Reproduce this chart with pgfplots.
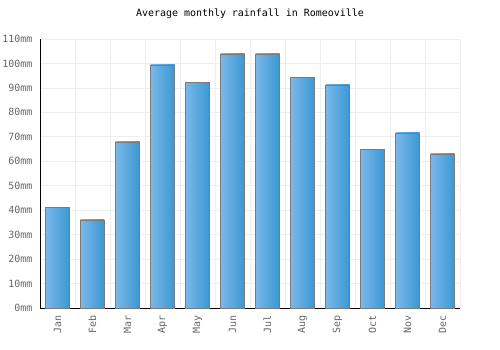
\documentclass[border=0pt]{standalone}
\usepackage{pgfplots}
\pgfplotsset{compat=1.18}
\usepackage{fontspec}
\setmainfont{DejaVu Sans Mono}
\definecolor{barL}{HTML}{7AB8EA}
\definecolor{barR}{HTML}{3A98D2}
\definecolor{barE}{HTML}{7A7A7A}
\definecolor{gridc}{HTML}{EEEEEE}
\definecolor{tickc}{HTML}{666666}
\begin{document}
\begin{tikzpicture}
\useasboundingbox (-40bp,-42bp) rectangle (460bp,308bp);
\begin{axis}[
  at={(0,0)}, anchor=south west,
  scale only axis, width=420bp, height=269bp,
  xmin=-0.5, xmax=11.5, ymin=0, ymax=110,
  xtick={0,...,11},
  xticklabels={Jan,Feb,Mar,Apr,May,Jun,Jul,Aug,Sep,Oct,Nov,Dec},
  minor xtick={-0.5,0.5,...,11.5},
  ytick={0,10,...,110},
  yticklabel={\pgfmathprintnumber{\tick}mm},
  /pgf/number format/assume math mode=true,
  xmajorgrids=false, xminorgrids=true, ymajorgrids=true,
  grid style={gridc, line width=0.8pt},
  minor grid style={gridc, line width=0.8pt},
  axis x line*=bottom, axis y line*=left,
  axis line style={black, line width=0.8pt},
  major tick length=0pt, minor tick length=0pt,
  tick style={draw=none},
  x tick label style={rotate=90, anchor=east, font=\fontsize{10}{12}\selectfont, text=tickc},
  y tick label style={font=\fontsize{10}{12}\selectfont, text=tickc},
  xticklabel shift=4bp, yticklabel shift=4bp,
  title={Average monthly rainfall in Romeoville},
  title style={at={(0.5,1)}, anchor=center, yshift=19bp, font=\fontsize{10}{12}\selectfont},
  clip=false,
  barstyle/.style={ybar, bar width=24bp, bar shift=0pt, draw=barE, line width=0.8pt, left color=barL, right color=barR, forget plot},
]
\addplot[barstyle] coordinates {(0,41.3)};
\addplot[barstyle] coordinates {(1,36)};
\addplot[barstyle] coordinates {(2,67.9)};
\addplot[barstyle] coordinates {(3,99.4)};
\addplot[barstyle] coordinates {(4,92.4)};
\addplot[barstyle] coordinates {(5,103.9)};
\addplot[barstyle] coordinates {(6,103.9)};
\addplot[barstyle] coordinates {(7,94.1)};
\addplot[barstyle] coordinates {(8,91.2)};
\addplot[barstyle] coordinates {(9,65)};
\addplot[barstyle] coordinates {(10,71.6)};
\addplot[barstyle] coordinates {(11,63)};
\end{axis}
\end{tikzpicture}
\end{document}
